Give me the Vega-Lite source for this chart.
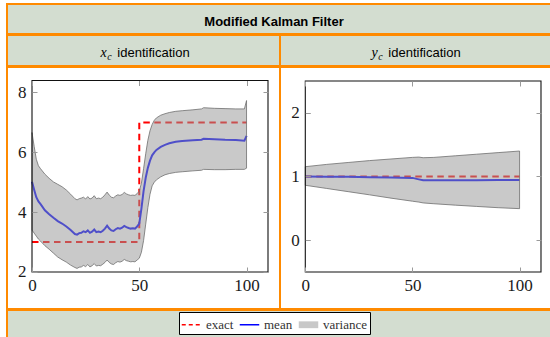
{
  "$schema": "https://vega.github.io/schema/vega-lite/v6.json",
  "background": "white",
  "padding": {"left": 6, "top": 3, "right": -2, "bottom": -2},
  "spacing": -2,
  "datasets": {
    "xc": [
      {"t": 0, "m": 5.02, "lo": 3.40, "hi": 6.66},
      {"t": 1, "m": 4.75, "lo": 3.30, "hi": 6.20},
      {"t": 2, "m": 4.50, "lo": 3.20, "hi": 5.77},
      {"t": 3, "m": 4.36, "lo": 3.10, "hi": 5.55},
      {"t": 4, "m": 4.27, "lo": 3.03, "hi": 5.45},
      {"t": 6, "m": 4.06, "lo": 2.88, "hi": 5.27},
      {"t": 8, "m": 3.93, "lo": 2.76, "hi": 5.13},
      {"t": 10, "m": 3.81, "lo": 2.63, "hi": 5.01},
      {"t": 12, "m": 3.70, "lo": 2.50, "hi": 4.93},
      {"t": 14, "m": 3.62, "lo": 2.41, "hi": 4.85},
      {"t": 16, "m": 3.52, "lo": 2.33, "hi": 4.74},
      {"t": 18, "m": 3.40, "lo": 2.23, "hi": 4.60},
      {"t": 20, "m": 3.27, "lo": 2.15, "hi": 4.45},
      {"t": 21, "m": 3.25, "lo": 2.12, "hi": 4.41},
      {"t": 22, "m": 3.30, "lo": 2.16, "hi": 4.45},
      {"t": 23, "m": 3.31, "lo": 2.17, "hi": 4.47},
      {"t": 24, "m": 3.36, "lo": 2.22, "hi": 4.50},
      {"t": 25, "m": 3.33, "lo": 2.18, "hi": 4.44},
      {"t": 26, "m": 3.39, "lo": 2.25, "hi": 4.52},
      {"t": 27, "m": 3.31, "lo": 2.17, "hi": 4.44},
      {"t": 28, "m": 3.35, "lo": 2.21, "hi": 4.47},
      {"t": 29, "m": 3.42, "lo": 2.28, "hi": 4.55},
      {"t": 30, "m": 3.33, "lo": 2.20, "hi": 4.45},
      {"t": 31, "m": 3.35, "lo": 2.22, "hi": 4.47},
      {"t": 32, "m": 3.33, "lo": 2.21, "hi": 4.45},
      {"t": 33, "m": 3.38, "lo": 2.26, "hi": 4.50},
      {"t": 34, "m": 3.45, "lo": 2.32, "hi": 4.58},
      {"t": 35, "m": 3.55, "lo": 2.40, "hi": 4.67},
      {"t": 36, "m": 3.45, "lo": 2.32, "hi": 4.57},
      {"t": 37, "m": 3.39, "lo": 2.27, "hi": 4.50},
      {"t": 38, "m": 3.37, "lo": 2.25, "hi": 4.48},
      {"t": 39, "m": 3.43, "lo": 2.31, "hi": 4.54},
      {"t": 40, "m": 3.47, "lo": 2.35, "hi": 4.58},
      {"t": 41, "m": 3.45, "lo": 2.33, "hi": 4.56},
      {"t": 42, "m": 3.48, "lo": 2.36, "hi": 4.59},
      {"t": 43, "m": 3.54, "lo": 2.42, "hi": 4.66},
      {"t": 44, "m": 3.50, "lo": 2.38, "hi": 4.61},
      {"t": 45, "m": 3.47, "lo": 2.36, "hi": 4.58},
      {"t": 46, "m": 3.45, "lo": 2.34, "hi": 4.56},
      {"t": 47, "m": 3.46, "lo": 2.35, "hi": 4.57},
      {"t": 48, "m": 3.45, "lo": 2.34, "hi": 4.56},
      {"t": 49, "m": 3.52, "lo": 2.40, "hi": 4.62},
      {"t": 50, "m": 3.62, "lo": 2.46, "hi": 4.70},
      {"t": 51, "m": 4.12, "lo": 2.66, "hi": 4.97},
      {"t": 52, "m": 4.70, "lo": 3.05, "hi": 5.45},
      {"t": 53, "m": 5.15, "lo": 3.60, "hi": 5.95},
      {"t": 54, "m": 5.48, "lo": 4.15, "hi": 6.40},
      {"t": 55, "m": 5.72, "lo": 4.60, "hi": 6.72},
      {"t": 56, "m": 5.90, "lo": 4.88, "hi": 6.93},
      {"t": 57, "m": 6.00, "lo": 5.00, "hi": 7.07},
      {"t": 58, "m": 6.08, "lo": 5.08, "hi": 7.15},
      {"t": 60, "m": 6.18, "lo": 5.18, "hi": 7.24},
      {"t": 62, "m": 6.25, "lo": 5.25, "hi": 7.29},
      {"t": 64, "m": 6.30, "lo": 5.29, "hi": 7.33},
      {"t": 67, "m": 6.35, "lo": 5.33, "hi": 7.37},
      {"t": 70, "m": 6.38, "lo": 5.35, "hi": 7.39},
      {"t": 75, "m": 6.40, "lo": 5.38, "hi": 7.42},
      {"t": 79, "m": 6.42, "lo": 5.40, "hi": 7.45},
      {"t": 80, "m": 6.45, "lo": 5.43, "hi": 7.49},
      {"t": 85, "m": 6.44, "lo": 5.42, "hi": 7.47},
      {"t": 90, "m": 6.42, "lo": 5.42, "hi": 7.46},
      {"t": 95, "m": 6.41, "lo": 5.43, "hi": 7.45},
      {"t": 99, "m": 6.39, "lo": 5.43, "hi": 7.45},
      {"t": 100, "m": 6.55, "lo": 5.47, "hi": 7.73}
    ],
    "xexact": [
      {"t": 0, "v": 3},
      {"t": 50, "v": 7},
      {"t": 100, "v": 7}
    ],
    "yc": [
      {"t": 0, "m": 1.0, "lo": 0.862, "hi": 1.154},
      {"t": 10, "m": 0.998, "lo": 0.812, "hi": 1.19},
      {"t": 20, "m": 0.995, "lo": 0.762, "hi": 1.22},
      {"t": 30, "m": 0.99, "lo": 0.712, "hi": 1.25},
      {"t": 40, "m": 0.985, "lo": 0.66, "hi": 1.275},
      {"t": 50, "m": 0.978, "lo": 0.612, "hi": 1.30},
      {"t": 53, "m": 0.955, "lo": 0.598, "hi": 1.305},
      {"t": 55, "m": 0.94, "lo": 0.585, "hi": 1.295},
      {"t": 60, "m": 0.94, "lo": 0.572, "hi": 1.30},
      {"t": 70, "m": 0.942, "lo": 0.55, "hi": 1.325},
      {"t": 80, "m": 0.943, "lo": 0.53, "hi": 1.35},
      {"t": 90, "m": 0.944, "lo": 0.51, "hi": 1.375},
      {"t": 100, "m": 0.945, "lo": 0.495, "hi": 1.40}
    ],
    "yexact": [
      {"t": 0, "v": 1},
      {"t": 100, "v": 1}
    ]
  },
  "resolve": {
    "scale": {"stroke": "independent", "fill": "independent", "shape": "independent", "strokeDash": "independent"},
    "legend": {"stroke": "independent", "fill": "independent", "shape": "independent", "strokeDash": "independent"}
  },
  "vconcat": [
    {
      "width": 544,
      "height": 30,
      "view": {"fill": "#d3ddd0", "stroke": "#ff8a00", "strokeWidth": 2},
      "data": {"values": [{"label": "Modified Kalman Filter"}]},
      "mark": {"type": "text", "font": "Liberation Sans", "fontSize": 13, "fontWeight": "bold", "baseline": "alphabetic", "dy": 6.5, "dx": -5, "color": "#000000"},
      "encoding": {"text": {"field": "label"}}
    },
    {
      "hconcat": [
        {
          "width": 273,
          "height": 31,
          "view": {"fill": "#d3ddd0", "stroke": "#ff8a00", "strokeWidth": 2},
          "data": {"values": [{"v": "x", "s": "c", "label": "identification"}]},
          "layer": [
            {"mark": {"type": "text", "font": "Liberation Sans", "fontSize": 13, "baseline": "alphabetic", "dy": 6.5, "dx": 10, "color": "#000000"}, "encoding": {"text": {"field": "label"}}},
            {"mark": {"type": "text", "font": "Liberation Serif", "fontStyle": "italic", "fontSize": 14, "baseline": "alphabetic", "dy": 6.5, "dx": -40, "color": "#000000"}, "encoding": {"text": {"field": "v"}}},
            {"mark": {"type": "text", "font": "Liberation Serif", "fontStyle": "italic", "fontSize": 10, "baseline": "alphabetic", "dy": 9, "dx": -34, "color": "#000000"}, "encoding": {"text": {"field": "s"}}}
          ]
        },
        {
          "width": 271,
          "height": 31,
          "view": {"fill": "#d3ddd0", "stroke": "#ff8a00", "strokeWidth": 2},
          "data": {"values": [{"v": "y", "s": "c", "label": "identification"}]},
          "layer": [
            {"mark": {"type": "text", "font": "Liberation Sans", "fontSize": 13, "baseline": "alphabetic", "dy": 6.5, "dx": 9, "color": "#000000"}, "encoding": {"text": {"field": "label"}}},
            {"mark": {"type": "text", "font": "Liberation Serif", "fontStyle": "italic", "fontSize": 14, "baseline": "alphabetic", "dy": 6.5, "dx": -41, "color": "#000000"}, "encoding": {"text": {"field": "v"}}},
            {"mark": {"type": "text", "font": "Liberation Serif", "fontStyle": "italic", "fontSize": 10, "baseline": "alphabetic", "dy": 9, "dx": -35, "color": "#000000"}, "encoding": {"text": {"field": "s"}}}
          ]
        }
      ],
      "spacing": 0,
      "bounds": "flush"
    },
    {
      "hconcat": [
        {
          "width": 273,
          "height": 242,
          "view": {"fill": "white", "stroke": "#ff8a00", "strokeWidth": 2},
          "resolve": {"axis": {"x": "independent", "y": "independent"}},
          "layer": [
            {
              "data": {"name": "xexact"},
              "mark": {"type": "line", "interpolate": "step-after", "color": "#ff0000", "strokeWidth": 2, "strokeDash": [6.5, 4.5]},
              "encoding": {
                "x": {"field": "t", "type": "quantitative", "scale": {"domain": [-11.653, 115.593], "nice": false, "zero": false}, "axis": null},
                "y": {"field": "v", "type": "quantitative", "scale": {"domain": [0.7634, 8.851], "nice": false, "zero": false}, "axis": null}
              }
            },
            {
              "data": {"name": "xc"},
              "mark": {"type": "line", "color": "#0000ff", "strokeWidth": 2},
              "encoding": {
                "x": {"field": "t", "type": "quantitative", "scale": {"domain": [-11.653, 115.593], "nice": false, "zero": false},
                  "axis": {"orient": "top", "offset": -18.5, "values": [0, 50, 100], "tickSize": 5, "tickColor": "#9a9a9a", "labels": false, "domain": false, "grid": false, "title": null, "zindex": 1}},
                "y": {"field": "m", "type": "quantitative", "scale": {"domain": [0.7634, 8.851], "nice": false, "zero": false},
                  "axis": {"orient": "right", "offset": -17, "values": [2, 4, 6, 8], "tickSize": 5, "tickColor": "#9a9a9a", "labels": false, "domain": false, "grid": false, "title": null, "zindex": 1}}
              }
            },
            {
              "data": {"name": "xc"},
              "mark": {"type": "area", "fill": "#979797", "fillOpacity": 0.52, "stroke": "#6f6f6f", "strokeWidth": 0.8},
              "encoding": {
                "x": {"field": "t", "type": "quantitative", "scale": {"domain": [-11.653, 115.593], "nice": false, "zero": false}, "axis": null},
                "y": {"field": "lo", "type": "quantitative", "scale": {"domain": [0.7634, 8.851], "nice": false, "zero": false}, "axis": null},
                "y2": {"field": "hi"}
              }
            },
            {
              "data": {"values": [{}]},
              "mark": {"type": "rect", "fill": "transparent", "stroke": "#111111", "strokeWidth": 1.1},
              "encoding": {
                "x": {"datum": 0, "type": "quantitative", "scale": {"domain": [-11.653, 115.593], "nice": false, "zero": false},
                  "axis": {"orient": "bottom", "offset": -42, "values": [0, 50, 100], "tickSize": 5, "tickColor": "#9a9a9a", "domain": false, "grid": false, "labelFont": "Liberation Serif", "labelFontSize": 17, "labelColor": "#1a1a1a", "labelPadding": 5, "labelFlush": false, "labelOverlap": false, "title": null, "zindex": 1}},
                "x2": {"datum": 110},
                "y": {"datum": 2, "type": "quantitative", "scale": {"domain": [0.7634, 8.851], "nice": false, "zero": false},
                  "axis": {"orient": "left", "offset": -30, "values": [2, 4, 6, 8], "tickSize": 5, "tickColor": "#9a9a9a", "domain": false, "grid": false, "labelFont": "Liberation Serif", "labelFontSize": 17, "labelColor": "#1a1a1a", "labelPadding": 6, "labelOverlap": false, "title": null, "zindex": 1}},
                "y2": {"datum": 8.4}
              }
            }
          ]
        },
        {
          "width": 271,
          "height": 242,
          "view": {"fill": "white", "stroke": "#ff8a00", "strokeWidth": 2},
          "resolve": {"axis": {"x": "independent", "y": "independent"}},
          "layer": [
            {
              "data": {"name": "yexact"},
              "mark": {"type": "line", "color": "#ff0000", "strokeWidth": 2, "strokeDash": [6.5, 4.5]},
              "encoding": {
                "x": {"field": "t", "type": "quantitative", "scale": {"domain": [-11.807, 114.67], "nice": false, "zero": false}, "axis": null},
                "y": {"field": "v", "type": "quantitative", "scale": {"domain": [-1.0812, 2.7199], "nice": false, "zero": false}, "axis": null}
              }
            },
            {
              "data": {"name": "yc"},
              "mark": {"type": "line", "color": "#0000ff", "strokeWidth": 2},
              "encoding": {
                "x": {"field": "t", "type": "quantitative", "scale": {"domain": [-11.807, 114.67], "nice": false, "zero": false},
                  "axis": {"orient": "top", "offset": -19, "values": [0, 50, 100], "tickSize": 5, "tickColor": "#9a9a9a", "labels": false, "domain": false, "grid": false, "title": null, "zindex": 1}},
                "y": {"field": "m", "type": "quantitative", "scale": {"domain": [-1.0812, 2.7199], "nice": false, "zero": false},
                  "axis": {"orient": "right", "offset": -15, "values": [0, 1, 2], "tickSize": 5, "tickColor": "#9a9a9a", "labels": false, "domain": false, "grid": false, "title": null, "zindex": 1}}
              }
            },
            {
              "data": {"name": "yc"},
              "mark": {"type": "area", "fill": "#979797", "fillOpacity": 0.52, "stroke": "#6f6f6f", "strokeWidth": 0.8},
              "encoding": {
                "x": {"field": "t", "type": "quantitative", "scale": {"domain": [-11.807, 114.67], "nice": false, "zero": false}, "axis": null},
                "y": {"field": "lo", "type": "quantitative", "scale": {"domain": [-1.0812, 2.7199], "nice": false, "zero": false}, "axis": null},
                "y2": {"field": "hi"}
              }
            },
            {
              "data": {"values": [{}]},
              "mark": {"type": "rect", "fill": "transparent", "stroke": "#111111", "strokeWidth": 1.1},
              "encoding": {
                "x": {"datum": 0, "type": "quantitative", "scale": {"domain": [-11.807, 114.67], "nice": false, "zero": false},
                  "axis": {"orient": "bottom", "offset": -42, "values": [0, 50, 100], "tickSize": 5, "tickColor": "#9a9a9a", "domain": false, "grid": false, "labelFont": "Liberation Serif", "labelFontSize": 17, "labelColor": "#1a1a1a", "labelPadding": 5, "labelFlush": false, "labelOverlap": false, "title": null, "zindex": 1}},
                "x2": {"datum": 110},
                "y": {"datum": -0.5, "type": "quantitative", "scale": {"domain": [-1.0812, 2.7199], "nice": false, "zero": false},
                  "axis": {"orient": "left", "offset": -30.3, "values": [0, 1, 2], "tickSize": 5, "tickColor": "#9a9a9a", "domain": false, "grid": false, "labelFont": "Liberation Serif", "labelFontSize": 17, "labelColor": "#1a1a1a", "labelPadding": 6, "labelOverlap": false, "title": null, "zindex": 1}},
                "y2": {"datum": 2.5}
              }
            }
          ]
        }
      ],
      "spacing": 0,
      "bounds": "flush"
    },
    {
      "width": 544,
      "height": 31,
      "view": {"fill": "#d3ddd0", "stroke": "#ff8a00", "strokeWidth": 2},
      "data": {"values": [{"series": "exact"}, {"series": "mean"}, {"series": "variance"}]},
      "mark": {"type": "point", "opacity": 0},
      "encoding": {
        "stroke": {
          "field": "series",
          "type": "nominal",
          "scale": {"domain": ["exact", "mean", "variance"], "range": ["#ff0000", "#0000ff", "transparent"]},
          "legend": {
            "title": null,
            "orient": "none",
            "legendX": 172,
            "legendY": 2,
            "direction": "horizontal",
            "fillColor": "white",
            "strokeColor": "#000000",
            "padding": 2,
            "labelFont": "Liberation Serif",
            "labelFontSize": 13,
            "labelColor": "#333333",
            "labelOffset": 4,
            "columnPadding": 3,
            "symbolSize": 380,
            "symbolStrokeWidth": 1.3,
            "symbolOpacity": 1
          }
        },
        "fill": {
          "field": "series",
          "type": "nominal",
          "scale": {"domain": ["exact", "mean", "variance"], "range": ["transparent", "transparent", "#c8c8c8"]},
          "legend": {
            "title": null,
            "orient": "none",
            "legendX": 172,
            "legendY": 2,
            "direction": "horizontal",
            "symbolOpacity": 1
          }
        },
        "shape": {
          "field": "series",
          "type": "nominal",
          "scale": {"domain": ["exact", "mean", "variance"], "range": ["stroke", "stroke", "M-1,-0.35H1V0.35H-1Z"]},
          "legend": {
            "title": null,
            "orient": "none",
            "legendX": 172,
            "legendY": 2,
            "direction": "horizontal",
            "symbolOpacity": 1
          }
        },
        "strokeDash": {
          "field": "series",
          "type": "nominal",
          "scale": {"domain": ["exact", "mean", "variance"], "range": [[4, 3], [1, 0], [1, 0]]},
          "legend": {
            "title": null,
            "orient": "none",
            "legendX": 172,
            "legendY": 2,
            "direction": "horizontal",
            "symbolOpacity": 1
          }
        }
      }
    }
  ],
  "config": {
    "view": {"stroke": "#ff8a00", "strokeWidth": 2},
    "concat": {"spacing": 0}
  }
}
